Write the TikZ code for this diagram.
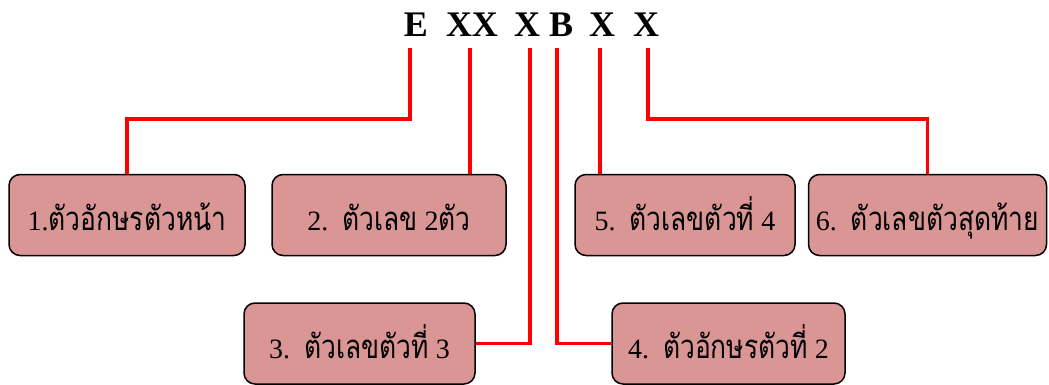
\documentclass[tikz,border=0pt]{standalone}
\usepackage{fontspec}
\setmainfont{Liberation Serif}
\newfontfamily\thaiface[Script=Thai,FakeStretch=0.8]{Loma}
\newcommand{\thai}{\thaiface\fontsize{33}{38}\selectfont}
\definecolor{boxfill}{RGB}{217,150,148}
\tikzset{
  lbl/.style={draw=black, line width=1.5pt, fill=boxfill, rounded corners=11pt,
    minimum height=81pt, inner sep=0pt, text height=38pt, text depth=8pt,
    font=\fontsize{28}{32}\selectfont},
  code/.style={anchor=base, inner sep=0pt, font=\fontsize{36}{40}\selectfont\bfseries},
  link/.style={draw=red, line width=3.5pt}
}
\begin{document}
\begin{tikzpicture}[x=1pt,y=-1pt]
\useasboundingbox (0,0) rectangle (1049,385);
% code letters
\node[code] (L1) at (416,37) {E};
\node[code] (L2) at (472,37) {XX};
\node[code] (L3) at (527,37) {X};
\node[code] (L4) at (561,37) {B};
\node[code] (L5) at (602,37) {X};
\node[code] (L6) at (646,37) {X};
\coordinate (s1) at (410,48);
\coordinate (s2) at (470,48);
\coordinate (s3) at (530,48);
\coordinate (s4) at (557,48);
\coordinate (s5) at (600,48);
\coordinate (s6) at (648,48);
% boxes
\node[lbl, minimum width=236pt] (b1) at (127,215) {1.{\thai ตัวอักษรตัวหน้า}};
\node[lbl, minimum width=234pt] (b2) at (389,215) {2.\ \ {\thai ตัวเลข} 2{\thai ตัว}};
\node[lbl, minimum width=220pt] (b5) at (685,215) {5.\ \ {\thai ตัวเลขตัวที่} 4};
\node[lbl, minimum width=238pt] (b6) at (927.5,215) {6.\ \ {\thai ตัวเลขตัวสุดท้าย}};
\node[lbl, minimum width=231pt] (b3) at (359.5,343.5) {3.\ \ {\thai ตัวเลขตัวที่} 3};
\node[lbl, minimum width=233pt] (b4) at (728.5,343.5) {4.\ \ {\thai ตัวอักษรตัวที่} 2};
% connectors
\draw[link] (s1) -- ++(0,71) -| (b1.north);
\draw[link] (s2) -- (s2 |- b2.north);
\draw[link] (s3) |- (b3.east);
\draw[link] (s4) |- (b4.west);
\draw[link] (s5) -- (s5 |- b5.north);
\draw[link] (s6) -- ++(0,71) -| (b6.north);
\end{tikzpicture}
\end{document}
